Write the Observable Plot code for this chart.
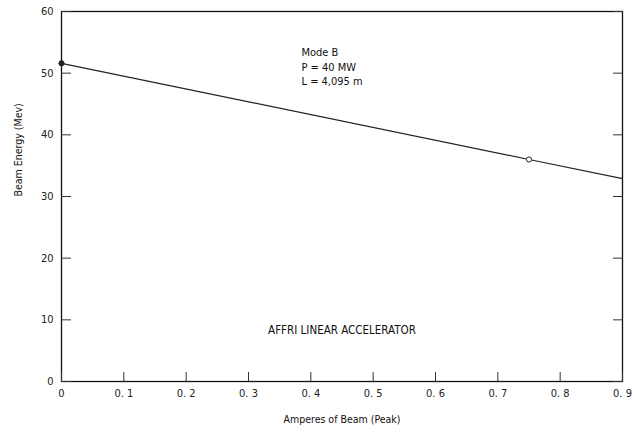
<!DOCTYPE html>
<html>
<head>
<meta charset="utf-8">
<script src="https://cdn.jsdelivr.net/npm/d3@7"></script>
<script src="https://cdn.jsdelivr.net/npm/@observablehq/plot@0.6"></script>
<style>
  body { margin: 0; background: #fff; }
  #chart svg { display: block; }
</style>
</head>
<body>
<div id="chart"></div>
<script>
const amperes = [0, 0.75, 0.9];
const energy = [51.6, 36.0, 32.9];
const markerFill = ["#222", "#fff", "none"];
const markerShown = [true, true, false];
const xTicks = [0, 0.1, 0.2, 0.3, 0.4, 0.5, 0.6, 0.7, 0.8, 0.9];
const yTicks = [0, 10, 20, 30, 40, 50, 60];
const notes = ["Mode B", "P = 40 MW", "L = 4,095 m"];
const noteX = 0.385;
const noteY = [53.3, 51.0, 48.7];
const title = "AFFRI LINEAR ACCELERATOR";
const titleX = 0.45;
const titleY = 8.3;
const xLabel = "Amperes of Beam (Peak)";
const yLabel = "Beam Energy (Mev)";

const pts = amperes.map((a, i) => ({a, e: energy[i], fill: markerFill[i], show: markerShown[i]}));
const noteData = notes.map((t, i) => ({t, x: noteX, y: noteY[i]}));

const font = "'DejaVu Sans Condensed', 'Liberation Sans Narrow', sans-serif";

const chart = Plot.plot({
  width: 634,
  height: 432,
  marginLeft: 61,
  marginRight: 12,
  marginTop: 11,
  marginBottom: 51,
  style: {fontFamily: font, fontSize: "11px", color: "#222", background: "#fff"},
  x: {domain: [0, 0.9]},
  y: {domain: [0, 60]},
  marks: [
    Plot.frame({stroke: "#111", strokeWidth: 1.3}),
    Plot.axisX(xTicks, {tickSize: 0, tickPadding: 8, tickFormat: d => d === 0 ? "0" : d3.format(".1f")(d).replace(".", ". "), fontSize: 11, label: null}),
    Plot.axisX(xTicks, {tickSize: -9, tickFormat: () => "", label: null, stroke: "#333"}),
    Plot.axisY(yTicks, {tickSize: 0, tickPadding: 8, label: null, fontSize: 11}),
    Plot.axisY(yTicks, {tickSize: -10, tickFormat: () => "", label: null, stroke: "#333"}),
    Plot.axisY(yTicks, {anchor: "right", tickSize: -10, tickFormat: () => "", label: null, stroke: "#333"}),
    Plot.line(pts, {x: "a", y: "e", stroke: "#222", strokeWidth: 1.2}),
    Plot.dot(pts.filter(d => d.show), {x: "a", y: "e", r: 2.6, fill: "fill", stroke: "#222", strokeWidth: 1}),
    Plot.text(noteData, {x: "x", y: "y", text: "t", textAnchor: "start", fontSize: 11, fill: "#111"}),
    Plot.text([title], {x: () => titleX, y: () => titleY, text: d => d, fontSize: 11.5, fill: "#111", letterSpacing: "0.9px"}),
    Plot.text([xLabel], {frameAnchor: "bottom", dy: 41, text: d => d, fontSize: 10.5, fill: "#111"}),
    Plot.text([yLabel], {frameAnchor: "left", dx: -43, rotate: -90, text: d => d, fontSize: 10.5, fill: "#111"})
  ]
});
document.getElementById("chart").appendChild(chart);
</script>
</body>
</html>
